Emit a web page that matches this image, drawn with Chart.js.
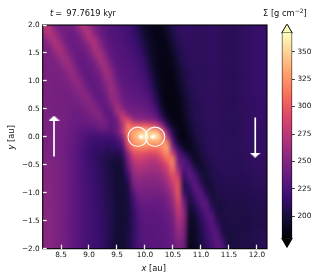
<!DOCTYPE html>
<html><head><meta charset="utf-8">
<style>html,body{margin:0;padding:0;background:#fff;width:320px;height:279px;overflow:hidden}canvas{position:absolute;top:0;display:block}</style>
<script src="https://cdn.jsdelivr.net/npm/chart.js@4"></script></head>
<body><canvas id="main" width="320" height="279" style="left:0"></canvas><canvas id="bar" width="50" height="279" style="left:270px"></canvas>
<script>
const xCols=[8.2,8.3,8.4,8.5,8.6,8.7,8.8,8.9,9.0,9.1,9.2,9.3,9.4,9.5,9.6,9.7,9.8,9.9,10.0,10.1,10.2,10.3,10.4,10.5,10.6,10.7,10.8,10.9,11.0,11.1,11.2,11.3,11.4,11.5,11.6,11.7,11.8,11.9,12.0,12.1,12.2];
const yRows=[2.0,1.9,1.8,1.7,1.6,1.5,1.4,1.3,1.2,1.1,1.0,0.9,0.8,0.7,0.6,0.5,0.4,0.3,0.2,0.1,0.0,-0.1,-0.2,-0.3,-0.4,-0.5,-0.6,-0.7,-0.8,-0.9,-1.0,-1.1,-1.2,-1.3,-1.4,-1.5,-1.6,-1.7,-1.8,-1.9,-2.0];
const sigma=[
[278,262,248,243,241,243,258,276,258,244,236,231,228,226,224,220,213,204,195,190,188,188,198,207,212,214,214,212,210,212,213,212,210,209,209,211,213,214,215,216,215],
[270,274,256,245,241,241,248,266,270,250,238,232,228,226,224,221,215,206,196,191,188,187,195,205,211,213,214,212,210,212,213,212,210,209,209,211,213,214,215,216,215],
[256,272,264,249,241,239,243,254,272,260,243,233,229,227,225,222,217,209,198,192,188,187,193,203,210,212,213,212,210,212,213,212,210,209,209,211,213,214,215,216,215],
[249,260,272,256,243,239,240,247,263,270,250,236,230,228,226,223,219,212,201,193,189,187,190,200,208,211,213,212,210,212,213,212,210,209,209,211,213,214,215,216,215],
[246,250,266,265,248,240,238,242,252,270,258,240,232,229,227,225,221,215,204,195,190,187,188,197,206,210,212,212,210,212,213,212,210,209,209,211,213,214,215,216,215],
[246,247,256,268,254,242,237,239,246,262,266,247,234,230,228,226,223,218,207,196,190,187,187,194,204,209,212,212,210,212,213,212,210,209,209,211,213,214,215,216,215],
[246,246,249,260,263,248,238,236,241,252,268,255,237,231,229,227,225,220,211,198,191,187,186,191,202,208,211,212,210,212,213,212,210,209,209,211,213,214,215,216,215],
[246,246,247,252,264,254,240,235,238,244,260,262,243,232,230,228,226,222,214,200,191,187,186,189,200,207,210,211,210,211,213,212,210,209,209,211,213,214,215,216,215],
[246,246,246,248,256,260,245,236,236,240,250,266,250,235,231,229,227,224,218,204,192,187,186,188,197,205,209,211,210,211,212,212,210,209,209,211,213,214,215,216,215],
[246,246,245,246,250,259,251,238,234,238,243,263,256,238,232,230,228,226,221,208,194,187,186,187,195,204,208,211,210,211,212,212,210,209,209,211,213,214,215,216,215],
[246,246,245,245,247,254,257,244,235,236,240,256,260,242,233,231,229,227,223,212,196,188,186,186,193,202,208,210,210,211,212,212,210,209,209,211,213,214,215,216,215],
[246,246,245,244,245,249,255,250,237,234,238,248,262,247,235,232,231,229,225,216,199,188,186,185,191,200,207,210,210,211,212,212,210,209,209,211,213,214,215,216,215],
[246,246,245,244,244,246,251,254,244,235,236,243,262,252,237,234,233,231,228,220,203,189,186,185,189,198,206,209,210,211,212,211,210,209,209,211,213,214,215,216,215],
[246,246,245,244,243,244,247,251,252,240,234,239,258,256,240,236,235,233,231,225,208,191,186,185,188,196,205,209,210,211,212,211,210,209,209,211,213,214,214,215,215],
[246,246,245,244,243,243,244,247,252,247,236,236,250,262,245,238,237,236,234,229,214,193,186,185,187,195,204,208,209,211,212,211,210,209,209,211,213,214,214,215,215],
[246,246,245,244,243,242,242,244,248,252,242,233,240,268,254,242,241,240,238,234,222,198,187,185,186,194,203,208,209,211,212,211,210,209,209,211,212,213,214,215,215],
[246,246,245,244,243,241,240,241,244,249,250,235,234,258,276,252,246,245,244,240,232,208,189,186,186,192,202,207,209,210,212,211,210,209,209,210,212,213,214,214,214],
[247,247,246,245,243,241,239,239,241,244,248,243,233,240,284,290,262,255,255,250,245,225,197,187,186,190,200,206,209,210,211,211,210,209,209,210,212,213,214,214,214],
[247,247,246,245,243,240,237,236,236,238,243,243,233,238,265,315,300,300,300,295,285,260,215,192,187,188,198,205,208,210,211,211,210,209,209,210,212,213,214,214,214],
[247,247,246,244,242,239,235,232,230,230,233,235,230,240,272,315,330,340,345,340,340,310,250,205,190,186,195,204,208,210,211,211,210,209,209,210,212,213,214,214,214],
[247,247,246,244,241,238,233,228,224,222,222,222,222,228,250,310,335,350,372,350,372,335,275,215,190,186,192,202,207,209,211,211,210,209,209,210,212,213,213,214,214],
[247,247,246,244,241,237,232,226,221,218,217,216,216,220,232,300,325,335,338,330,332,325,320,232,195,188,190,199,205,209,211,211,210,209,209,210,212,213,213,214,214],
[248,247,246,244,241,236,231,225,219,216,214,212,212,214,222,285,312,318,318,314,312,320,335,250,215,192,189,196,204,208,210,211,210,209,209,210,212,213,213,214,214],
[248,248,246,244,241,236,230,224,218,214,212,209,207,206,212,255,295,298,294,290,292,305,325,285,228,212,195,194,202,207,210,211,210,209,209,210,211,212,213,213,213],
[249,248,247,245,241,236,230,224,218,214,210,206,203,201,204,245,280,285,280,276,278,290,310,318,235,228,208,192,199,205,209,210,210,209,209,209,211,212,212,213,213],
[250,249,248,245,241,236,231,225,219,215,211,206,201,198,200,240,268,275,272,268,268,275,292,320,245,232,222,198,196,203,208,210,210,209,209,209,210,211,212,212,213],
[251,250,248,245,241,236,231,225,220,216,212,207,202,198,199,228,262,268,266,262,262,268,280,310,262,222,232,212,197,200,206,209,210,209,209,209,210,211,211,212,212],
[251,250,248,245,241,236,231,225,220,216,212,207,202,198,198,216,256,260,258,256,256,260,272,295,280,215,235,224,202,199,205,208,209,209,209,208,209,210,211,211,212],
[252,250,248,245,241,236,231,225,221,217,213,208,203,198,198,208,250,254,252,252,252,255,264,285,296,208,226,232,210,198,203,207,208,208,208,208,209,209,210,210,211],
[252,251,248,245,241,236,231,226,221,217,213,208,203,199,198,204,243,250,248,248,248,250,258,276,300,206,216,234,222,200,201,206,207,208,207,207,208,209,209,210,211],
[252,251,248,245,241,236,231,226,222,218,214,209,204,199,198,202,232,245,245,245,244,245,252,268,302,215,208,228,232,208,200,205,206,207,207,206,207,208,208,209,210],
[252,251,248,245,241,236,231,226,222,218,214,209,204,199,198,201,225,241,242,242,240,241,247,260,298,232,204,220,234,222,200,204,205,206,206,205,206,207,207,208,209],
[253,251,249,245,241,236,231,226,222,218,214,210,205,199,198,200,220,236,238,238,237,238,243,255,290,246,200,212,228,234,206,202,204,205,205,204,205,206,206,207,208],
[253,251,249,245,241,236,231,226,222,218,214,210,205,199,198,200,216,232,235,235,235,236,240,250,282,255,196,205,220,233,216,200,203,204,204,204,205,205,206,207,208],
[253,252,249,245,241,236,231,226,222,219,215,210,205,199,198,200,214,230,233,234,234,234,238,246,276,258,194,200,214,228,230,203,203,204,204,204,204,205,205,206,208],
[253,252,249,245,241,236,231,226,222,219,215,211,205,199,198,200,214,228,232,233,233,233,236,243,270,256,192,197,210,224,232,210,202,204,205,204,204,205,205,206,208],
[253,252,249,245,241,236,231,226,222,219,215,211,205,199,198,201,213,227,231,232,232,232,235,241,265,252,191,195,207,220,230,220,201,203,204,204,204,205,205,206,208],
[254,252,249,245,241,236,231,226,222,219,215,211,205,199,198,201,213,226,230,231,231,232,234,240,260,250,190,194,205,217,228,228,204,202,203,204,204,205,205,207,209],
[254,252,249,245,241,236,231,226,222,219,216,211,204,198,198,202,214,226,230,231,231,232,234,239,255,247,189,193,203,215,225,232,210,200,203,204,204,205,206,208,210],
[254,252,249,245,241,236,231,226,222,219,216,211,204,198,198,202,215,226,230,231,231,232,234,238,250,244,189,192,202,213,222,234,222,200,203,204,205,205,207,209,211],
[254,252,249,245,241,236,231,226,222,219,216,211,204,198,198,203,216,226,230,231,231,232,234,238,246,242,189,192,201,212,221,233,228,202,203,204,205,206,207,210,212]
];
const xTicks=[8.5,9,9.5,10,10.5,11,11.5,12];
const yTicks=[-2,-1.5,-1,-0.5,0,0.5,1,1.5,2];
const barTicks=[200,225,250,275,300,325,350];
const vMin=180, vMax=367;
const magmaStops=['#000004','#140e36','#3b0f70','#641a80','#8c2981','#b73779','#de4968','#f7705c','#fe9f6d','#fecf92','#fcfdbf'];
const circleX=[9.87,10.18], circleY=[0,0];
const starX=[9.93,10.14], starY=[0,0];
const arrowUpX=[8.375,8.375], arrowUpY=[-0.35,0.3];
const arrowDownX=[11.97,11.97], arrowDownY=[0.345,-0.3];
const headX=[8.375,11.97], headY=[0.335,-0.33];

const FONT='"DejaVu Sans"';
function hex(c){return [1,3,5].map(i=>parseInt(c.substr(i,2),16));}
function magma(v){
  const t=Math.min(1,Math.max(0,(v-vMin)/(vMax-vMin)))*(magmaStops.length-1);
  const i=Math.min(magmaStops.length-2,Math.floor(t)),f=t-i;
  const a=hex(magmaStops[i]),b=hex(magmaStops[i+1]);
  return 'rgb('+a.map((q,k)=>Math.round(q+(b[k]-q)*f)).join(',')+')';
}
const cells=[],cellColors=[];
yRows.forEach((y,r)=>xCols.forEach((x,c)=>{cells.push({x,y});cellColors.push(magma(sigma[r][c]));}));
const zip=(a,b)=>a.map((x,i)=>({x,y:b[i]}));
const head=document.createElement('canvas');head.width=11;head.height=5;
{const h=head.getContext('2d');h.fillStyle='#fff';h.beginPath();h.moveTo(5.5,0);h.lineTo(11,5);h.lineTo(0,5);h.closePath();h.fill();}

function runs(ctx,list,x,y,rot){
  ctx.save();ctx.translate(x,y);if(rot)ctx.rotate(rot);ctx.fillStyle='#111';ctx.textBaseline='alphabetic';ctx.textAlign='left';
  let p=0;list.forEach(r=>{ctx.font=(r.i?'italic ':'')+(r.s||8.3)+'px '+FONT;ctx.fillText(r.t,p,r.dy||0);p+=ctx.measureText(r.t).width+(r.g||0);});
  ctx.restore();
}
const decor={id:'decor',
  afterDatasetDraw(chart,args){
    if(args.index!==chart.data.datasets.length-1)return;
    const a=chart.chartArea,ctx=chart.ctx,w=Math.round(a.right-a.left),h=Math.round(a.bottom-a.top);
    const t=document.createElement('canvas');t.width=w;t.height=h;
    const g=t.getContext('2d');g.filter='blur(2.1px)';
    g.drawImage(chart.canvas,a.left,a.top,a.right-a.left,a.bottom-a.top,0,0,w,h);
    ctx.save();ctx.beginPath();ctx.rect(a.left,a.top,a.right-a.left,a.bottom-a.top);ctx.clip();
    ctx.drawImage(t,a.left,a.top,a.right-a.left,a.bottom-a.top);ctx.restore();
  },
  afterDatasetsDraw(chart){
    const a=chart.chartArea,ctx=chart.ctx;
    ctx.save();ctx.strokeStyle='#000';ctx.lineWidth=1.1;ctx.strokeRect(a.left,a.top,a.right-a.left,a.bottom-a.top);ctx.restore();
  },
  afterDraw(chart){
    const ctx=chart.ctx;
    runs(ctx,[{t:'t',i:1,g:2},{t:'=',g:4},{t:'97.7619 kyr'}],50,16);
    runs(ctx,[{t:'x',i:1},{t:' [au]'}],141.5,271);
    runs(ctx,[{t:'y',i:1},{t:' [au]'}],14,149.5,-Math.PI/2);
    runs(ctx,[{t:'Σ [g cm'},{t:'−2',s:6,dy:-3.4},{t:']'}],263,16);
  }};
const tickFmt=v=>Number(v).toFixed(1).replace('-','−');
const inner={z:1,drawOnChartArea:false,tickColor:'#f2f2f2',tickWidth:1.3,tickLength:-4};
new Chart(document.getElementById('main'),{
  type:'scatter',
  plugins:[decor],
  data:{datasets:[
    {data:zip(starX,starY),pointStyle:'star',pointRadius:2.6,borderColor:'#fff',borderWidth:1,backgroundColor:'#fff'},
    {data:zip(circleX,circleY),pointStyle:'circle',pointRadius:9.7,borderColor:'rgba(255,255,255,.92)',borderWidth:1.1,backgroundColor:'transparent'},
    {data:zip(headX,headY),pointStyle:head,pointRotation:[0,180]},
    {type:'line',data:zip(arrowUpX,arrowUpY),borderColor:'#fff',borderWidth:1.7,pointRadius:0},
    {type:'line',data:zip(arrowDownX,arrowDownY),borderColor:'#fff',borderWidth:1.7,pointRadius:0},
    {data:cells,pointStyle:'rect',pointRadius:4.4,borderWidth:0,backgroundColor:cellColors,clip:0}
  ]},
  options:{responsive:false,animation:false,devicePixelRatio:1,events:[],
    layout:{padding:{left:0,top:25,right:53,bottom:0}},
    plugins:{legend:{display:false},tooltip:{enabled:false},title:{display:false}},
    scales:{
      x:{type:'linear',min:8.173,max:12.18,afterFit:s=>{s.height=30.3;},afterBuildTicks:s=>{s.ticks=xTicks.map(value=>({value}));},
        border:{display:false},grid:inner,
        ticks:{callback:tickFmt,autoSkip:false,maxRotation:0,padding:6.5,color:'#111',font:{family:FONT,size:7.3}}},
      y:{type:'linear',min:-2,max:2,afterFit:s=>{s.width=42.7;},afterBuildTicks:s=>{s.ticks=yTicks.map(value=>({value}));},
        border:{display:false},grid:inner,
        ticks:{callback:tickFmt,autoSkip:false,padding:7,color:'#111',font:{family:FONT,size:7.3}}}
    }}
});
new Chart(document.getElementById('bar'),{
  type:'bar',
  data:{labels:['Σ'],datasets:[
    {data:[[vMin,vMax]],barPercentage:1,categoryPercentage:1,borderColor:'#000',borderWidth:{left:1,right:1,top:0,bottom:0},borderSkipped:false,
     backgroundColor(c){const a=c.chart.chartArea;if(!a)return '#000';const y=c.chart.scales.y;
       const g=c.chart.ctx.createLinearGradient(0,y.getPixelForValue(vMin),0,y.getPixelForValue(vMax));
       magmaStops.forEach((s,i)=>g.addColorStop(i/(magmaStops.length-1),s));return g;}},
    {type:'line',showLine:false,data:[369.8],pointStyle:'triangle',pointRadius:6.1,backgroundColor:magmaStops[10],borderColor:'#000',borderWidth:1},
    {type:'line',showLine:false,data:[177.2],pointStyle:'triangle',pointRotation:180,pointRadius:6.1,backgroundColor:'#000',borderColor:'#000',borderWidth:1}
  ]},
  options:{responsive:false,animation:false,devicePixelRatio:1,events:[],
    layout:{padding:{left:11.7,top:24.3,right:0,bottom:29.8}},
    plugins:{legend:{display:false},tooltip:{enabled:false}},
    scales:{
      x:{display:false,offset:true,grid:{display:false}},
      y:{position:'right',min:170,max:375,afterFit:s=>{s.width=27.7;},afterBuildTicks:s=>{s.ticks=barTicks.map(value=>({value}));},
        border:{display:false},grid:{drawOnChartArea:false,tickColor:'#111',tickWidth:0.8,tickLength:2.6},
        ticks:{autoSkip:false,padding:2.5,color:'#111',font:{family:FONT,size:7.3}}}
    }}
});
</script></body></html>
